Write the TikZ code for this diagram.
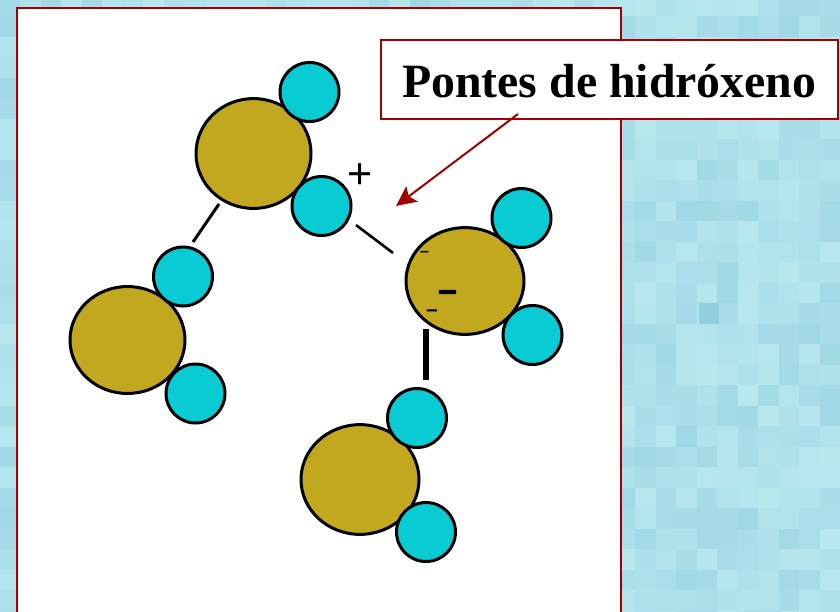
\documentclass[tikz,border=0pt]{standalone}
\usepackage{fontspec}
\setmainfont{Liberation Serif}
\newfontfamily\lblfont{Liberation Sans}
\newfontfamily\lblheavy[FakeBold=3]{Liberation Sans Bold}
\usetikzlibrary{arrows.meta}
\definecolor{gold}{HTML}{C1A81E}
\definecolor{cyanH}{HTML}{08CBD3}
\definecolor{darkred}{HTML}{A50000}
\definecolor{tilebase}{HTML}{AEE1EC}
\definecolor{tilelight}{HTML}{B9E7EE}
\definecolor{tiledark}{HTML}{A0D8E5}
\definecolor{tiledeep}{HTML}{8FCFE0}
\tikzset{
  hyd/.style={circle,draw=black,line width=3pt,fill=cyanH,inner sep=0pt,minimum size=59pt},
  big/.style={circle,draw=black,line width=3pt,fill=gold,inner sep=0pt,minimum size=#1},
  bond/.style={draw=black,line width=#1},
  sign/.style={inner sep=0pt,text=black},
}
\pgfmathsetseed{4217}
\begin{document}
\begin{tikzpicture}[x=1pt,y=-1pt]
\useasboundingbox (0,0) rectangle (840,611);
\fill[tilebase] (0,0) rectangle (840,611);
% mosaic background
\foreach \i in {0,...,41}{
  \foreach \j in {0,...,30}{
    \pgfmathsetmacro{\ra}{rnd}
    \pgfmathsetmacro{\rb}{int(rnd*100)}
    \pgfmathsetmacro{\px}{-0.5+20.5*\i}
    \pgfmathsetmacro{\py}{-4.5+20.5*\j}
    \ifdim\ra pt<0.55pt
      \fill[tilelight!\rb!tilebase] (\px,\py) rectangle ++(20.6,20.6);
    \else
      \fill[tiledark!\rb!tilebase] (\px,\py) rectangle ++(20.6,20.6);
    \fi
  }
}
\fill[tiledeep] (698.5,303) rectangle ++(20.5,20.5);
\fill[white,draw=darkred,line width=2pt] (17,8) rectangle (621,630);

% oxygens
\node[big=115pt,yscale=0.955] (o1) at (253.5,153.5) {};
\node[big=115pt,yscale=0.93] (o2) at (127.5,340) {};
\node[big=118pt,yscale=0.905] (o3) at (465,281) {};
\node[big=118pt,yscale=0.93] (o4) at (360,479.5) {};

% hydrogens
\node[hyd] (h1a) at (309.5,92) {};
\node[hyd] (h1b) at (321.5,206) {};
\node[hyd] (h2a) at (183,276.5) {};
\node[hyd] (h2b) at (195.5,393.5) {};
\node[hyd] (h3a) at (521.5,218) {};
\node[hyd] (h3b) at (532.5,335) {};
\node[hyd] (h4a) at (417,418) {};
\node[hyd] (h4b) at (426,532) {};

% hydrogen bonds
\coordinate (b1s) at (219,204);
\coordinate (b1e) at (193,242);
\coordinate (b2s) at (356,225);
\coordinate (b2e) at (393,253);
\coordinate (b3s) at (426,329);
\coordinate (b3e) at (426,380);
\draw[bond=3pt] (b1s) -- (b1e);
\draw[bond=2.6pt] (b2s) -- (b2e);
\draw[bond=5.5pt] (b3s) -- (b3e);

% charges
\node[sign,font=\lblfont\fontsize{43}{43}\selectfont] (plus) at (360,176) {+};
\node[sign,font=\lblheavy\fontsize{33}{33}\selectfont] (minus) at (447.5,295.5) {–};
\node[sign,font=\lblfont\bfseries\fontsize{16}{16}\selectfont] (m1) at (424.5,254) {–};
\node[sign,font=\lblfont\bfseries\fontsize{21}{21}\selectfont] (m2) at (432,313) {–};

% label
\node[draw=darkred,line width=2pt,fill=white,inner sep=0pt,minimum width=457pt,
      text height=57.5pt,text depth=21.5pt,
      font=\bfseries\fontsize{47.8}{48}\selectfont] (lab) at (609.3,79) {Pontes de hidróxeno};
\coordinate (ast) at (518,114);
\coordinate (tip) at (396,206);
\draw[darkred,line width=2pt,-{Stealth[length=20pt,width=19pt,inset=4pt]}] (ast) -- (tip);
\end{tikzpicture}
\end{document}
